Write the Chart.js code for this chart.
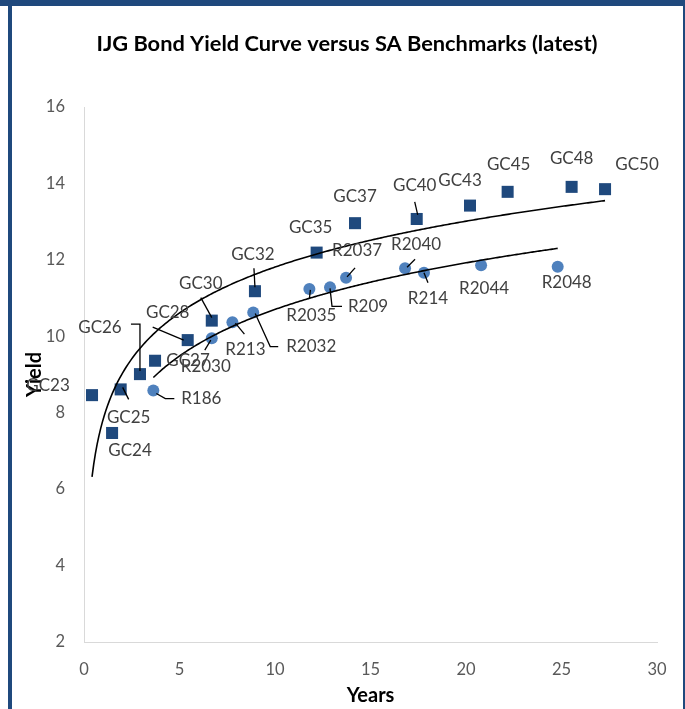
<!DOCTYPE html>
<html>
<head>
<meta charset="utf-8">
<script src="https://cdn.jsdelivr.net/npm/chart.js@4.4.0/dist/chart.umd.min.js"></script>
<style>
  html, body { margin: 0; padding: 0; background: #ffffff; }
  canvas { display: block; }
</style>
</head>
<body>
<canvas id="c" width="685" height="709"></canvas>
<script>
// ---- Data ----
const chartTitle = 'IJG Bond Yield Curve versus SA Benchmarks (latest)';

const gcNames  = ['GC23','GC24','GC25','GC26','GC27','GC28','GC30','GC32','GC35','GC37','GC40','GC43','GC45','GC48','GC50'];
const gcYears  = [0.42, 1.47, 1.92, 2.93, 3.72, 5.43, 6.69, 8.95, 12.18, 14.19, 17.42, 20.21, 22.18, 25.53, 27.28];
const gcYields = [8.46, 7.47, 8.61, 9.01, 9.36, 9.90, 10.41, 11.18, 12.19, 12.96, 13.07, 13.42, 13.78, 13.91, 13.85];

const rNames  = ['R186','R2030','R213','R2032','R2035','R209','R2037','R2040','R214','R2044','R2048'];
const rYears  = [3.63, 6.69, 7.77, 8.86, 11.80, 12.88, 13.72, 16.81, 17.80, 20.79, 24.80];
const rYields = [8.58, 9.95, 10.37, 10.62, 11.24, 11.28, 11.53, 11.78, 11.66, 11.86, 11.82];

const xTicks = [0, 5, 10, 15, 20, 25, 30];
const yTicks = [2, 4, 6, 8, 10, 12, 14, 16];

// ---- Label placement (pixel offsets from each point; styling only) ----
const gcLabelOffsets = [[-44,-10],[18,18],[8,28],[-40,-47],[33,0],[-20,-28],[-11,-37],[-2,-37],[-6,-25],[0,-27],[-2,-33],[-10,-25],[1,-27],[0,-28],[32,-25]];
const gcLeaders = [null, null, [[2,-2],[8,10]], [[-9,-50],[0,-50],[0,-3]], null, [[-35,-13],[-4,0]], [[-11,-23],[0,-3]], [[-1,-23],[0,-4]], null, null, [[-2,-17],[1,-4]], null, null, null, null];
const rLabelOffsets = [[48,8],[-6,28],[13,27],[58,34],[2,27],[38,19],[11,-27],[11,-24],[4,26],[3,23],[9,16]];
const rLeaders = [[[3,3],[12,8],[21,8]], [[-7,12],[-1,2]], [[3,1],[12,12]], [[2,1],[17,34],[25,34]], [[1,1],[0,10]], [[0,1],[2,19],[12,19]], [[9,-10],[1,-1]], [[10,-9],[2,-1]], [[0,0],[4,10]], null, null];

const FONT = 'Lato, "Open Sans", sans-serif';

function toPoints(xs, ys) { return xs.map((x, i) => ({ x: x, y: ys[i] })); }

// logarithmic least-squares fit y = a + b ln(x)
function logFit(xs, ys) {
  const n = xs.length;
  const L = xs.map(Math.log);
  const lm = L.reduce((s, v) => s + v, 0) / n;
  const ym = ys.reduce((s, v) => s + v, 0) / n;
  let sxy = 0, sxx = 0;
  for (let i = 0; i < n; i++) { sxy += (L[i] - lm) * (ys[i] - ym); sxx += (L[i] - lm) * (L[i] - lm); }
  const b = sxy / sxx;
  return { a: ym - b * lm, b: b, xmin: Math.min(...xs), xmax: Math.max(...xs) };
}

const trendPlugin = {
  id: 'trend',
  afterDatasetsDraw(chart) {
    const ctx = chart.ctx, xs = chart.scales.x, ys = chart.scales.y;
    const fits = [logFit(gcYears, gcYields), logFit(rYears, rYields)];
    ctx.save();
    ctx.beginPath();
    ctx.rect(chart.chartArea.left, chart.chartArea.top, chart.chartArea.right - chart.chartArea.left, chart.chartArea.bottom - chart.chartArea.top);
    ctx.clip();
    ctx.strokeStyle = '#000000';
    ctx.lineWidth = 1.6;
    fits.forEach(f => {
      ctx.beginPath();
      const steps = 300;
      for (let k = 0; k <= steps; k++) {
        const xv = f.xmin + (f.xmax - f.xmin) * k / steps;
        const px = xs.getPixelForValue(xv);
        const py = ys.getPixelForValue(f.a + f.b * Math.log(xv));
        if (k === 0) ctx.moveTo(px, py); else ctx.lineTo(px, py);
      }
      ctx.stroke();
    });
    ctx.restore();
  }
};

const labelPlugin = {
  id: 'labels',
  afterDatasetsDraw(chart) {
    const ctx = chart.ctx;
    const sets = [
      { names: gcNames, offs: gcLabelOffsets, leaders: gcLeaders, meta: chart.getDatasetMeta(0) },
      { names: rNames,  offs: rLabelOffsets,  leaders: rLeaders,  meta: chart.getDatasetMeta(1) }
    ];
    ctx.save();
    sets.forEach(s => {
      s.meta.data.forEach((el, i) => {
        const lead = s.leaders[i];
        if (lead) {
          ctx.strokeStyle = '#000000';
          ctx.lineWidth = 1.3;
          ctx.beginPath();
          lead.forEach((p, k) => { if (k === 0) ctx.moveTo(el.x + p[0], el.y + p[1]); else ctx.lineTo(el.x + p[0], el.y + p[1]); });
          ctx.stroke();
        }
      });
    });
    ctx.font = '17px ' + FONT;
    ctx.fillStyle = '#404040';
    ctx.textAlign = 'center';
    ctx.textBaseline = 'middle';
    sets.forEach(s => {
      s.meta.data.forEach((el, i) => {
        const o = s.offs[i];
        ctx.fillText(s.names[i], el.x + o[0], el.y + o[1]);
      });
    });
    ctx.restore();
  }
};

const framePlugin = {
  id: 'frame',
  beforeDraw(chart) {
    const ctx = chart.ctx;
    ctx.save();
    ctx.fillStyle = '#ffffff';
    ctx.fillRect(0, 0, chart.width, chart.height);
    ctx.restore();
  },
  afterDraw(chart) {
    const ctx = chart.ctx;
    ctx.save();
    // chart title
    ctx.font = 'bold 21.8px ' + FONT;
    ctx.fillStyle = '#000000';
    ctx.textAlign = 'center';
    ctx.textBaseline = 'middle';
    ctx.fillText(chartTitle, 347, 44);
    // outer frame
    ctx.fillStyle = '#1F497D';
    ctx.fillRect(0, 0, chart.width, 6);
    ctx.fillRect(8, 0, 4, chart.height);
    ctx.fillRect(chart.width - 2, 0, 2, chart.height);
    ctx.restore();
  }
};

new Chart(document.getElementById('c'), {
  type: 'scatter',
  data: {
    datasets: [
      {
        label: 'IJG Bonds',
        data: toPoints(gcYears, gcYields),
        pointStyle: 'rect',
        pointRadius: 8.5,
        pointHoverRadius: 8.5,
        backgroundColor: '#1F497D',
        borderColor: '#1F497D',
        borderWidth: 0
      },
      {
        label: 'SA Benchmarks',
        data: toPoints(rYears, rYields),
        pointStyle: 'circle',
        pointRadius: 6,
        pointHoverRadius: 6,
        backgroundColor: '#4F81BD',
        borderColor: '#4F81BD',
        borderWidth: 0
      }
    ]
  },
  options: {
    responsive: false,
    animation: false,
    devicePixelRatio: 1,
    layout: { padding: { left: 0, right: 28, top: 107, bottom: 0 } },
    plugins: {
      legend: { display: false },
      tooltip: { enabled: false },
      title: { display: false }
    },
    scales: {
      x: {
        type: 'linear',
        min: 0, max: 30,
        afterBuildTicks: s => { s.ticks = xTicks.map(v => ({ value: v })); },
        afterFit: s => { s.height = 67; },
        grid: { display: false, drawTicks: false },
        border: { display: true, color: '#D9D9D9', width: 1 },
        ticks: { color: '#595959', font: { family: FONT, size: 16.5 }, padding: 18, maxRotation: 0 },
        title: { display: true, text: 'Years', color: '#000000', font: { family: FONT, size: 20, weight: 'bold', lineHeight: 1.2 }, padding: { top: 0, bottom: 1 } }
      },
      y: {
        type: 'linear',
        min: 2, max: 16,
        afterBuildTicks: s => { s.ticks = yTicks.map(v => ({ value: v })); },
        afterFit: s => { s.width = 84; },
        grid: { display: false, drawTicks: false },
        border: { display: true, color: '#D9D9D9', width: 1 },
        ticks: { color: '#595959', font: { family: FONT, size: 16.5 }, padding: 19 },
        title: { display: true, text: 'Yield', color: '#000000', font: { family: FONT, size: 20, weight: 'bold', lineHeight: 1.2 }, padding: { top: 23, bottom: 0 } }
      }
    }
  },
  plugins: [framePlugin, trendPlugin, labelPlugin]
});
</script>
</body>
</html>
